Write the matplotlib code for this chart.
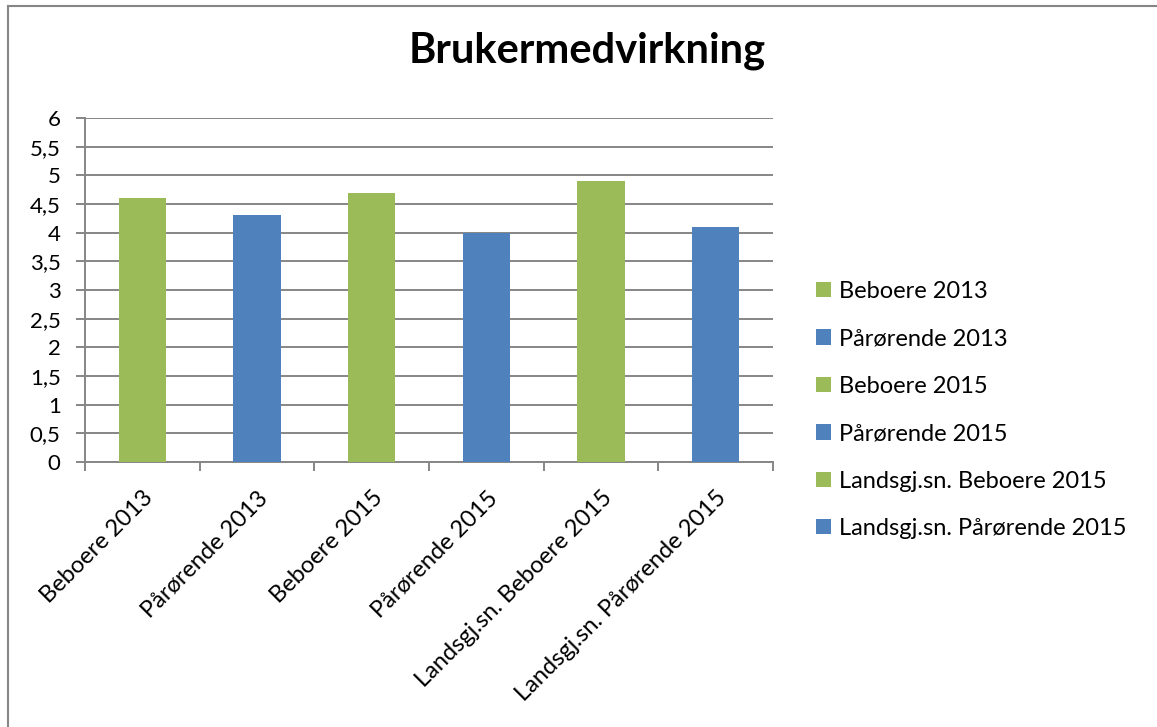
import matplotlib.pyplot as plt
from matplotlib.lines import Line2D
from matplotlib.patches import Patch
from matplotlib.ticker import FuncFormatter, MultipleLocator
import numpy as np

plt.rcParams['font.family'] = ['Lato', 'DejaVu Sans']

categories = ["Beboere 2013", "Pårørende 2013", "Beboere 2015",
              "Pårørende 2015", "Landsgj.sn. Beboere 2015",
              "Landsgj.sn. Pårørende 2015"]
values = [4.6, 4.3, 4.7, 4.0, 4.9, 4.1]
green = "#9BBB59"
blue = "#4F81BD"
colors = [green, blue, green, blue, green, blue]

W, H = 1157, 727
fig = plt.figure(figsize=(W / 100, H / 100), dpi=100)
ax = fig.add_axes([85 / W, 1 - 462 / H, (773 - 85) / W, (462 - 118) / H])

x = np.arange(len(categories))
ax.bar(x, values, width=0.41, color=colors, zorder=3)

ax.set_xlim(-0.5, len(categories) - 0.5)
ax.set_ylim(0, 6)
ax.yaxis.set_major_locator(MultipleLocator(0.5))
ax.yaxis.set_major_formatter(FuncFormatter(lambda v, p: f"{v:g}".replace(".", ",")))
ax.grid(axis="y", color="#868686", linewidth=1.4, zorder=0)

# category boundary ticks on the x axis, labels at centers
ax.set_xticks(np.arange(-0.5, len(categories), 1.0))
ax.set_xticklabels([])
ax.set_xticks(x, minor=True)
ax.set_xticklabels(categories, minor=True, rotation=45, ha="right",
                   va="top", rotation_mode="anchor", fontsize=17)
ax.tick_params(axis="x", which="minor", length=0, pad=18)
ax.tick_params(axis="x", which="major", length=6.5, width=1.4, color="#868686")
ax.tick_params(axis="y", length=6.5, width=1.4, color="#868686", labelsize=16, pad=11)

for s in ["top", "right"]:
    ax.spines[s].set_visible(False)
for s in ["left", "bottom"]:
    ax.spines[s].set_color("#868686")
    ax.spines[s].set_linewidth(1.4)

fig.text(587 / W, 1 - 62.5 / H, "Brukermedvirkning", ha="center", va="baseline",
         fontsize=30, fontweight="bold")

handles = [Patch(facecolor=c, edgecolor="none") for c in colors]
fig.legend(handles, categories, loc="center left",
           bbox_to_anchor=(795 / W, 1 - 410 / H), frameon=False,
           fontsize=17, handlelength=0.62, handleheight=0.62,
           handletextpad=0.35, labelspacing=1.12)

# outer chart border (visible top and left edges only)
fig.add_artist(Line2D([8 / W, 1], [1 - 6 / H, 1 - 6 / H], color="#868686",
                      linewidth=1.5, transform=fig.transFigure))
fig.add_artist(Line2D([8 / W, 8 / W], [0, 1 - 6 / H], color="#868686",
                      linewidth=1.5, transform=fig.transFigure))

fig.savefig("out.png", dpi=100)
